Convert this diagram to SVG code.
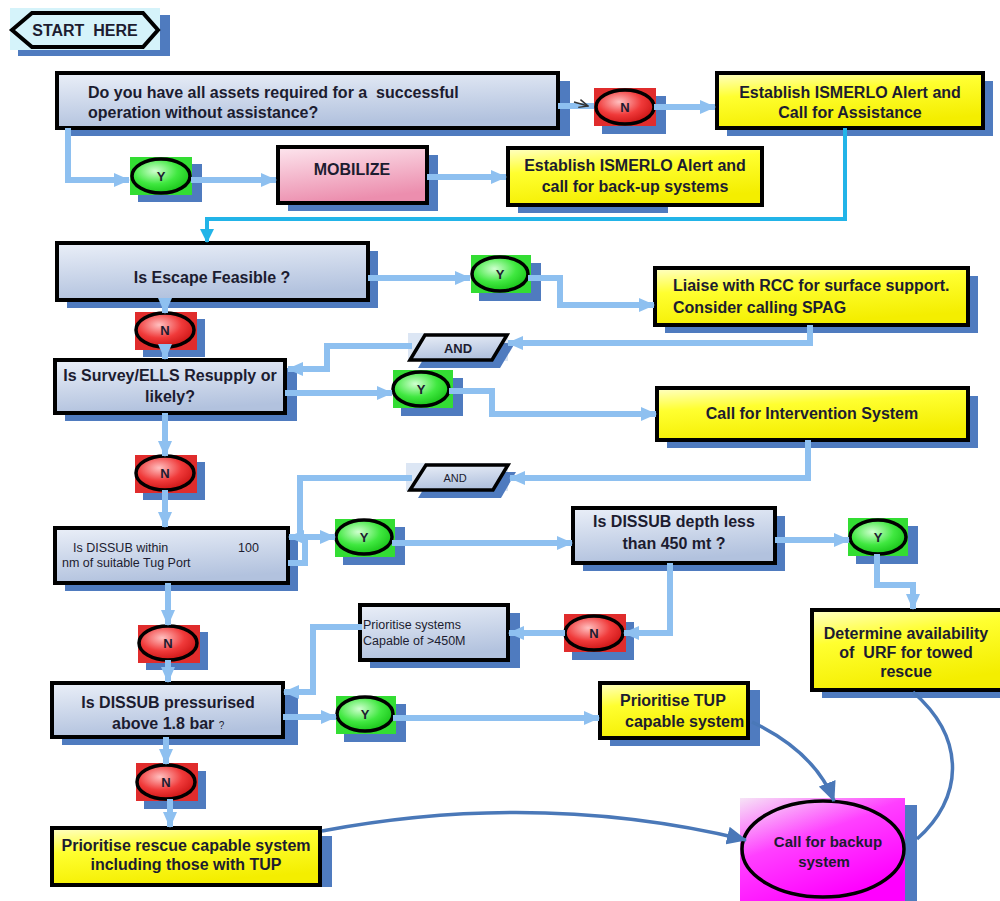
<svg xmlns="http://www.w3.org/2000/svg" width="1000" height="901" viewBox="0 0 1000 901">
<defs>
<linearGradient id="gq" x1="0" y1="0" x2="0.25" y2="1"><stop offset="0" stop-color="#eaeff8"/><stop offset="1" stop-color="#b2c2de"/></linearGradient>
<linearGradient id="gy" x1="0" y1="0" x2="0.35" y2="1"><stop offset="0" stop-color="#ffffc8"/><stop offset="0.4" stop-color="#ffff30"/><stop offset="1" stop-color="#f4ee00"/></linearGradient>
<linearGradient id="gp" x1="0" y1="0" x2="0.3" y2="1"><stop offset="0" stop-color="#fde6ee"/><stop offset="1" stop-color="#ec8eae"/></linearGradient>
<linearGradient id="gm" x1="0" y1="0" x2="0.6" y2="1"><stop offset="0" stop-color="#f6e4f6"/><stop offset="0.45" stop-color="#ff40ff"/><stop offset="1" stop-color="#ff00ff"/></linearGradient>
<radialGradient id="gg" cx="0.4" cy="0.35" r="0.7"><stop offset="0" stop-color="#d0ffd0"/><stop offset="0.55" stop-color="#40e840"/><stop offset="1" stop-color="#14c014"/></radialGradient>
<radialGradient id="gr" cx="0.4" cy="0.35" r="0.7"><stop offset="0" stop-color="#ffc0c0"/><stop offset="0.55" stop-color="#f03a3a"/><stop offset="1" stop-color="#c81010"/></radialGradient>
<marker id="a" markerUnits="userSpaceOnUse" markerWidth="16" markerHeight="16" refX="15" refY="8" orient="auto"><path d="M0,1 L16,8 L0,15 z" fill="#8ec0f0"/></marker>
<marker id="ac" markerUnits="userSpaceOnUse" markerWidth="14" markerHeight="14" refX="13" refY="7" orient="auto"><path d="M0,0 L14,7 L0,14 z" fill="#22b4e8"/></marker>
<marker id="ad" markerUnits="userSpaceOnUse" markerWidth="20" markerHeight="18" refX="19" refY="9" orient="auto"><path d="M0,0 L20,9 L0,18 z" fill="#4a78b8"/></marker>
<marker id="ak" markerUnits="userSpaceOnUse" markerWidth="10" markerHeight="10" refX="9" refY="5" orient="auto"><path d="M0,1 L9,5 L0,9" fill="none" stroke="#333" stroke-width="1.5"/></marker>
</defs>
<style>
text{font-family:"Liberation Sans",Arial,sans-serif;fill:#1c1c30}
.b{font-weight:bold;font-size:16px}
.c{text-anchor:middle}
.s{font-size:12.5px}
.shd{fill:#4f7bbf}
.q{fill:url(#gq);stroke:#000;stroke-width:4}
.y{fill:url(#gy);stroke:#000;stroke-width:4}
.gsq{fill:#33dd33}
.rsq{fill:#e02c2c}
.ye{fill:url(#gg);stroke:#000;stroke-width:3.5}
.ne{fill:url(#gr);stroke:#000;stroke-width:3.5}
.yn{font-weight:bold;font-size:13px;text-anchor:middle}
.l{fill:none;stroke:#8ec0f0;stroke-width:6;marker-end:url(#a)}
.cy{fill:none;stroke:#22b4e8;stroke-width:4;marker-end:url(#ac)}
.d{fill:none;stroke:#4a78b8;stroke-width:3.5}
</style>
<rect width="1000" height="901" fill="#ffffff"/>

<g id="start">
<rect class="shd" x="18" y="15" width="152" height="41"/>
<rect x="10" y="8" width="150" height="42" fill="#d5f3fa"/>
<polygon points="12,30 32,13 143,13 158,30 143,47 32,47" fill="#d5f3fa" stroke="#000" stroke-width="4"/>
<text class="b c" x="85" y="36" xml:space="preserve">START  HERE</text>
</g>

<g id="q1">
<rect class="shd" x="67" y="81" width="503" height="55"/>
<rect class="q" x="57" y="73" width="501" height="55"/>
<text class="b" x="88" y="98" xml:space="preserve">Do you have all assets required for a  successful</text>
<text class="b" x="88" y="118">operation without assistance?</text>
</g>

<g id="n1">
<rect class="shd" x="602" y="96" width="64" height="38"/>
<rect class="rsq" x="594" y="88" width="62" height="38"/>
<ellipse class="ne" cx="625" cy="107" rx="29" ry="17"/>
<text class="yn" x="625" y="112">N</text>
</g>

<g id="est1">
<rect class="shd" x="727" y="81" width="266" height="55"/>
<rect class="y" x="717" y="73" width="266" height="55"/>
<text class="b c" x="850" y="98">Establish ISMERLO Alert and</text>
<text class="b c" x="850" y="118">Call for Assistance</text>
</g>

<g id="y1">
<rect class="shd" x="138" y="164" width="64" height="38"/>
<rect class="gsq" x="130" y="157" width="62" height="38"/>
<ellipse class="ye" cx="161" cy="176" rx="29" ry="17"/>
<text class="yn" x="161" y="181">Y</text>
</g>

<g id="mobilize">
<rect class="shd" x="288" y="155" width="150" height="56"/>
<rect x="278" y="147" width="149" height="56" fill="url(#gp)" stroke="#000" stroke-width="4"/>
<text class="b c" x="352" y="175">MOBILIZE</text>
</g>

<g id="est2">
<rect class="shd" x="518" y="156" width="150" height="57"/>
<rect class="y" x="508" y="148" width="254" height="57"/>
<text class="b c" x="635" y="171">Establish ISMERLO Alert and</text>
<text class="b c" x="635" y="192">call for back-up systems</text>
</g>

<g id="escape">
<rect class="shd" x="67" y="251" width="311" height="57"/>
<rect class="q" x="57" y="243" width="311" height="57"/>
<text class="b c" x="212" y="283">Is Escape Feasible ?</text>
</g>

<g id="y2">
<rect class="shd" x="479" y="263" width="62" height="38"/>
<rect class="gsq" x="471" y="255" width="60" height="38"/>
<ellipse class="ye" cx="500" cy="274" rx="28" ry="17"/>
<text class="yn" x="500" y="279">Y</text>
</g>

<g id="liaise">
<rect class="shd" x="665" y="276" width="313" height="57"/>
<rect class="y" x="655" y="268" width="313" height="57"/>
<text class="b" x="673" y="291">Liaise with RCC for surface support.</text>
<text class="b" x="673" y="313">Consider calling SPAG</text>
</g>

<g id="n2">
<rect class="shd" x="143" y="319" width="62" height="38"/>
<rect class="rsq" x="135" y="312" width="62" height="38"/>
<ellipse class="ne" cx="165" cy="330" rx="29" ry="17"/>
<text class="yn" x="165" y="335">N</text>
</g>

<g id="and1">
<rect x="408" y="333" width="100" height="28" fill="#dce6f4"/>
<polygon class="shd" points="433,343 515,343 500,368 418,368"/>
<polygon points="425,335 507,335 492,360 410,360" fill="url(#gq)" stroke="#000" stroke-width="3.5"/>
<text class="c" x="458" y="353" font-size="13" font-weight="bold">AND</text>
</g>

<g id="q4">
<rect class="shd" x="65" y="368" width="232" height="53"/>
<rect class="q" x="55" y="360" width="230" height="53"/>
<text class="b c" x="170" y="381">Is Survey/ELLS Resupply or</text>
<text class="b c" x="170" y="402">likely?</text>
</g>

<g id="y3">
<rect class="shd" x="401" y="378" width="62" height="38"/>
<rect class="gsq" x="393" y="370" width="60" height="38"/>
<ellipse class="ye" cx="421" cy="389" rx="28" ry="17"/>
<text class="yn" x="421" y="394">Y</text>
</g>

<g id="intervention">
<rect class="shd" x="667" y="396" width="311" height="52"/>
<rect class="y" x="657" y="388" width="311" height="52"/>
<text class="b c" x="812" y="419">Call for Intervention System</text>
</g>

<g id="n3">
<rect class="shd" x="143" y="462" width="62" height="38"/>
<rect class="rsq" x="135" y="455" width="62" height="38"/>
<ellipse class="ne" cx="165" cy="473" rx="29" ry="17"/>
<text class="yn" x="165" y="478">N</text>
</g>

<g id="and2">
<rect x="406" y="463" width="102" height="28" fill="#dce6f4"/>
<polygon class="shd" points="434,472 516,472 501,498 418,498"/>
<polygon points="426,465 508,465 493,490 410,490" fill="url(#gq)" stroke="#000" stroke-width="3.5"/>
<text class="c" x="455" y="482" font-size="11">AND</text>
</g>

<g id="q5">
<rect class="shd" x="65" y="536" width="233" height="55"/>
<rect class="q" x="55" y="528" width="233" height="55"/>
<text class="s" x="73" y="552">Is DISSUB within</text>
<text class="s" x="238" y="552">100</text>
<text class="s" x="62" y="567">nm of suitable Tug Port</text>
</g>

<g id="y4">
<rect class="shd" x="343" y="527" width="62" height="38"/>
<rect class="gsq" x="335" y="519" width="60" height="38"/>
<ellipse class="ye" cx="364" cy="537" rx="28" ry="17"/>
<text class="yn" x="364" y="542">Y</text>
</g>

<g id="q6">
<rect class="shd" x="583" y="516" width="202" height="55"/>
<rect class="q" x="573" y="508" width="202" height="55"/>
<text class="b c" x="674" y="527">Is DISSUB depth less</text>
<text class="b c" x="674" y="549">than 450 mt ?</text>
</g>

<g id="y5">
<rect class="shd" x="856" y="526" width="62" height="38"/>
<rect class="gsq" x="848" y="518" width="60" height="38"/>
<ellipse class="ye" cx="878" cy="537" rx="28" ry="17"/>
<text class="yn" x="878" y="542">Y</text>
</g>

<g id="n4">
<rect class="shd" x="146" y="632" width="62" height="38"/>
<rect class="rsq" x="138" y="625" width="62" height="38"/>
<ellipse class="ne" cx="168" cy="643" rx="29" ry="17"/>
<text class="yn" x="168" y="648">N</text>
</g>

<g id="q7">
<rect class="shd" x="370" y="613" width="150" height="55"/>
<rect class="q" x="360" y="605" width="148" height="55"/>
<text class="s" x="363" y="629">Prioritise systems</text>
<text class="s" x="363" y="645">Capable of &gt;450M</text>
</g>

<g id="n5">
<rect class="shd" x="572" y="622" width="62" height="38"/>
<rect class="rsq" x="564" y="614" width="62" height="38"/>
<ellipse class="ne" cx="594" cy="633" rx="29" ry="17"/>
<text class="yn" x="594" y="638">N</text>
</g>

<g id="urf">
<rect class="shd" x="822" y="618" width="190" height="80"/>
<rect class="y" x="812" y="610" width="192" height="80"/>
<text class="b c" x="906" y="639">Determine availability</text>
<text class="b c" x="906" y="658" xml:space="preserve">of  URF for towed</text>
<text class="b c" x="906" y="677">rescue</text>
</g>

<g id="q8">
<rect class="shd" x="62" y="691" width="236" height="54"/>
<rect class="q" x="52" y="683" width="231" height="54"/>
<text class="b c" x="168" y="708">Is DISSUB pressurised</text>
<text class="b" x="112" y="729">above 1.8 bar <tspan font-size="10" font-weight="normal">?</tspan></text>
</g>

<g id="y6">
<rect class="shd" x="344" y="704" width="62" height="38"/>
<rect class="gsq" x="336" y="696" width="60" height="38"/>
<ellipse class="ye" cx="365" cy="714" rx="28" ry="17"/>
<text class="yn" x="365" y="719">Y</text>
</g>

<g id="tup">
<rect class="shd" x="610" y="690" width="150" height="56"/>
<rect class="y" x="600" y="683" width="148" height="55"/>
<text class="b" x="620" y="706">Prioritise TUP</text>
<text class="b" x="625" y="727">capable system</text>
</g>

<g id="n6">
<rect class="shd" x="144" y="771" width="62" height="38"/>
<rect class="rsq" x="136" y="763" width="62" height="38"/>
<ellipse class="ne" cx="166" cy="782" rx="29" ry="17"/>
<text class="yn" x="166" y="787">N</text>
</g>

<g id="q9">
<rect class="shd" x="62" y="836" width="270" height="51"/>
<rect class="y" x="52" y="828" width="268" height="57"/>
<text class="b c" x="186" y="851">Prioritise rescue capable system</text>
<text class="b c" x="186" y="870">including those with TUP</text>
</g>

<g id="backup">
<rect class="shd" x="750" y="805" width="167" height="96"/>
<rect x="740" y="798" width="165" height="103" fill="url(#gm)"/>
<ellipse cx="823" cy="849" rx="81" ry="48" fill="url(#gm)" stroke="#000" stroke-width="3.5"/>
<text class="c" x="828" y="847" font-weight="bold" font-size="15" fill="#1c1c40">Call for backup</text>
<text class="c" x="824" y="867" font-weight="bold" font-size="15" fill="#1c1c40">system</text>
</g>

<g id="connectors">
<path class="l" d="M68,128 V180 H129"/>
<path class="l" d="M191,180 H276"/>
<path class="l" d="M427,177 H506"/>
<path class="l" d="M558,106 H594" style="marker-end:none"/>
<path d="M574,102 L588,106" fill="none" stroke="#333" stroke-width="1.5" marker-end="url(#ak)"/>
<path class="l" d="M654,107 H715"/>
<path class="cy" d="M845,128 V219 H207 V242"/>
<path class="l" d="M368,278 H470"/>
<path class="l" d="M528,278 H560 V305 H654"/>
<path class="l" d="M165,300 V313"/>
<path class="l" d="M165,347 V359"/>
<path class="l" d="M810,325 V343 H508"/>
<path class="l" d="M412,346 H327 V369 H288"/>
<path class="l" d="M285,393 H392"/>
<path class="l" d="M449,391 H492 V414 H656"/>
<path class="l" d="M165,413 V456"/>
<path class="l" d="M165,490 V527"/>
<path class="l" d="M808,440 V478 H510"/>
<path class="l" d="M412,478 H300 V537 H289"/>
<path class="l" d="M288,563 H305 V537 H335"/>
<path class="l" d="M392,543 H572"/>
<path class="l" d="M775,540 H849"/>
<path class="l" d="M877,554 V585 H913 V609"/>
<path class="l" d="M670,563 V633 H624"/>
<path class="l" d="M565,633 H509"/>
<path class="l" d="M362,627 H313 V692 H284"/>
<path class="l" d="M168,583 V625"/>
<path class="l" d="M168,660 V682"/>
<path class="l" d="M283,717 H336"/>
<path class="l" d="M393,718 H599"/>
<path class="l" d="M166,737 V764"/>
<path class="l" d="M170,799 V827"/>
<path class="d" d="M322,831 Q540,790 746,840" marker-end="url(#ad)"/>
<path class="d" d="M752,722 Q815,752 834,801" marker-end="url(#ad)"/>
<path class="d" d="M913,692 C968,740 962,800 917,839"/>
</g>
</svg>
